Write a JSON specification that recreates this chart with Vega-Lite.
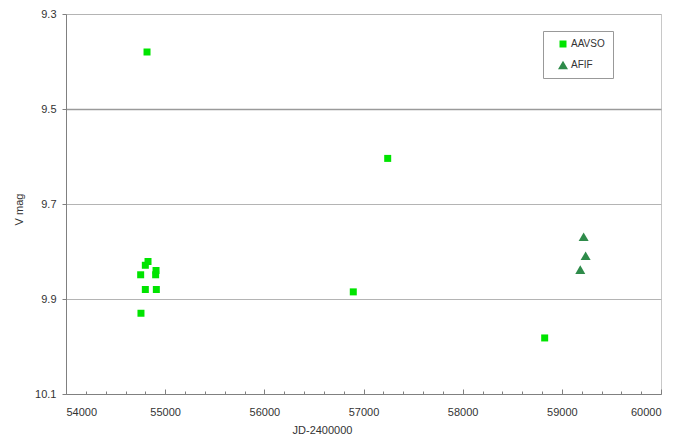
{
  "$schema": "https://vega.github.io/schema/vega-lite/v6.json",
  "width": 595,
  "height": 380,
  "autosize": {"type": "none"},
  "padding": {"left": 66, "top": 14, "right": 17, "bottom": 43},
  "background": "white",
  "config": {
    "font": "Liberation Sans",
    "view": {"stroke": "#c8c8c8", "strokeWidth": 1},
    "axis": {"labelFont": "Liberation Sans", "titleFont": "Liberation Sans", "labelColor": "#333", "titleColor": "#333", "labelFontSize": 11, "titleFontSize": 11, "titleFontWeight": "normal", "domainColor": "#808080", "tickColor": "#808080"}
  },
  "data": {"values": [
    {"series": "AAVSO", "jd": 54817, "mag": 9.380},
    {"series": "AAVSO", "jd": 57244, "mag": 9.604},
    {"series": "AAVSO", "jd": 54753, "mag": 9.849},
    {"series": "AAVSO", "jd": 54800, "mag": 9.829},
    {"series": "AAVSO", "jd": 54827, "mag": 9.821},
    {"series": "AAVSO", "jd": 54908, "mag": 9.840},
    {"series": "AAVSO", "jd": 54904, "mag": 9.849},
    {"series": "AAVSO", "jd": 54800, "mag": 9.880},
    {"series": "AAVSO", "jd": 54911, "mag": 9.880},
    {"series": "AAVSO", "jd": 54756, "mag": 9.930},
    {"series": "AAVSO", "jd": 56897, "mag": 9.885},
    {"series": "AAVSO", "jd": 58827, "mag": 9.982},
    {"series": "AFIF", "jd": 59220, "mag": 9.769},
    {"series": "AFIF", "jd": 59240, "mag": 9.809},
    {"series": "AFIF", "jd": 59186, "mag": 9.838}
  ]},
  "mark": {"type": "point", "filled": true, "opacity": 1},
  "encoding": {
    "x": {
      "field": "jd", "type": "quantitative",
      "scale": {"domain": [54000, 60000], "nice": false, "zero": false},
      "axis": {
        "title": "JD-2400000",
        "values": [54000,54200,54400,54600,54800,55000,55200,55400,55600,55800,56000,56200,56400,56600,56800,57000,57200,57400,57600,57800,58000,58200,58400,58600,58800,59000,59200,59400,59600,59800,60000],
        "labelExpr": "datum.value % 1000 === 0 ? format(datum.value, 'd') : ''",
        "grid": false,
        "tickSize": {"condition": {"test": "datum.value % 1000 === 0", "value": -5}, "value": -3},
        "labelPadding": 17,
        "titlePadding": 7,
        "titleX": 256
      }
    },
    "y": {
      "field": "mag", "type": "quantitative",
      "scale": {"domain": [9.3, 10.1], "reverse": true, "nice": false, "zero": false},
      "axis": {
        "title": "V mag",
        "values": [9.3, 9.5, 9.7, 9.9, 10.1],
        "format": ".1f",
        "grid": true,
        "gridColor": {"condition": {"test": "datum.value === 9.5", "value": "#9a9a9a"}, "value": "#b4b4b4"},
        "gridWidth": {"condition": {"test": "datum.value === 9.5", "value": 1.5}, "value": 1},
        "gridOpacity": 1,
        "tickSize": 4,
        "labelPadding": 6,
        "titlePadding": 10,
        "titleY": 195
      }
    },
    "shape": {
      "field": "series", "type": "nominal",
      "scale": {"domain": ["AAVSO", "AFIF"], "range": ["square", "triangle-up"]},
      "legend": {
        "title": null, "orient": "none", "legendX": 477, "legendY": 17,
        "strokeColor": "#999", "fillColor": "white", "padding": 8,
        "labelFontSize": 10, "labelColor": "#333", "labelFont": "Liberation Sans",
        "symbolOffset": 6, "rowPadding": 10, "labelOffset": 2
      }
    },
    "color": {
      "field": "series", "type": "nominal",
      "scale": {"domain": ["AAVSO", "AFIF"], "range": ["#00e400", "#2e8b4a"]}
    },
    "size": {
      "field": "series", "type": "nominal",
      "scale": {"domain": ["AAVSO", "AFIF"], "range": [49, 100]}
    }
  }
}
